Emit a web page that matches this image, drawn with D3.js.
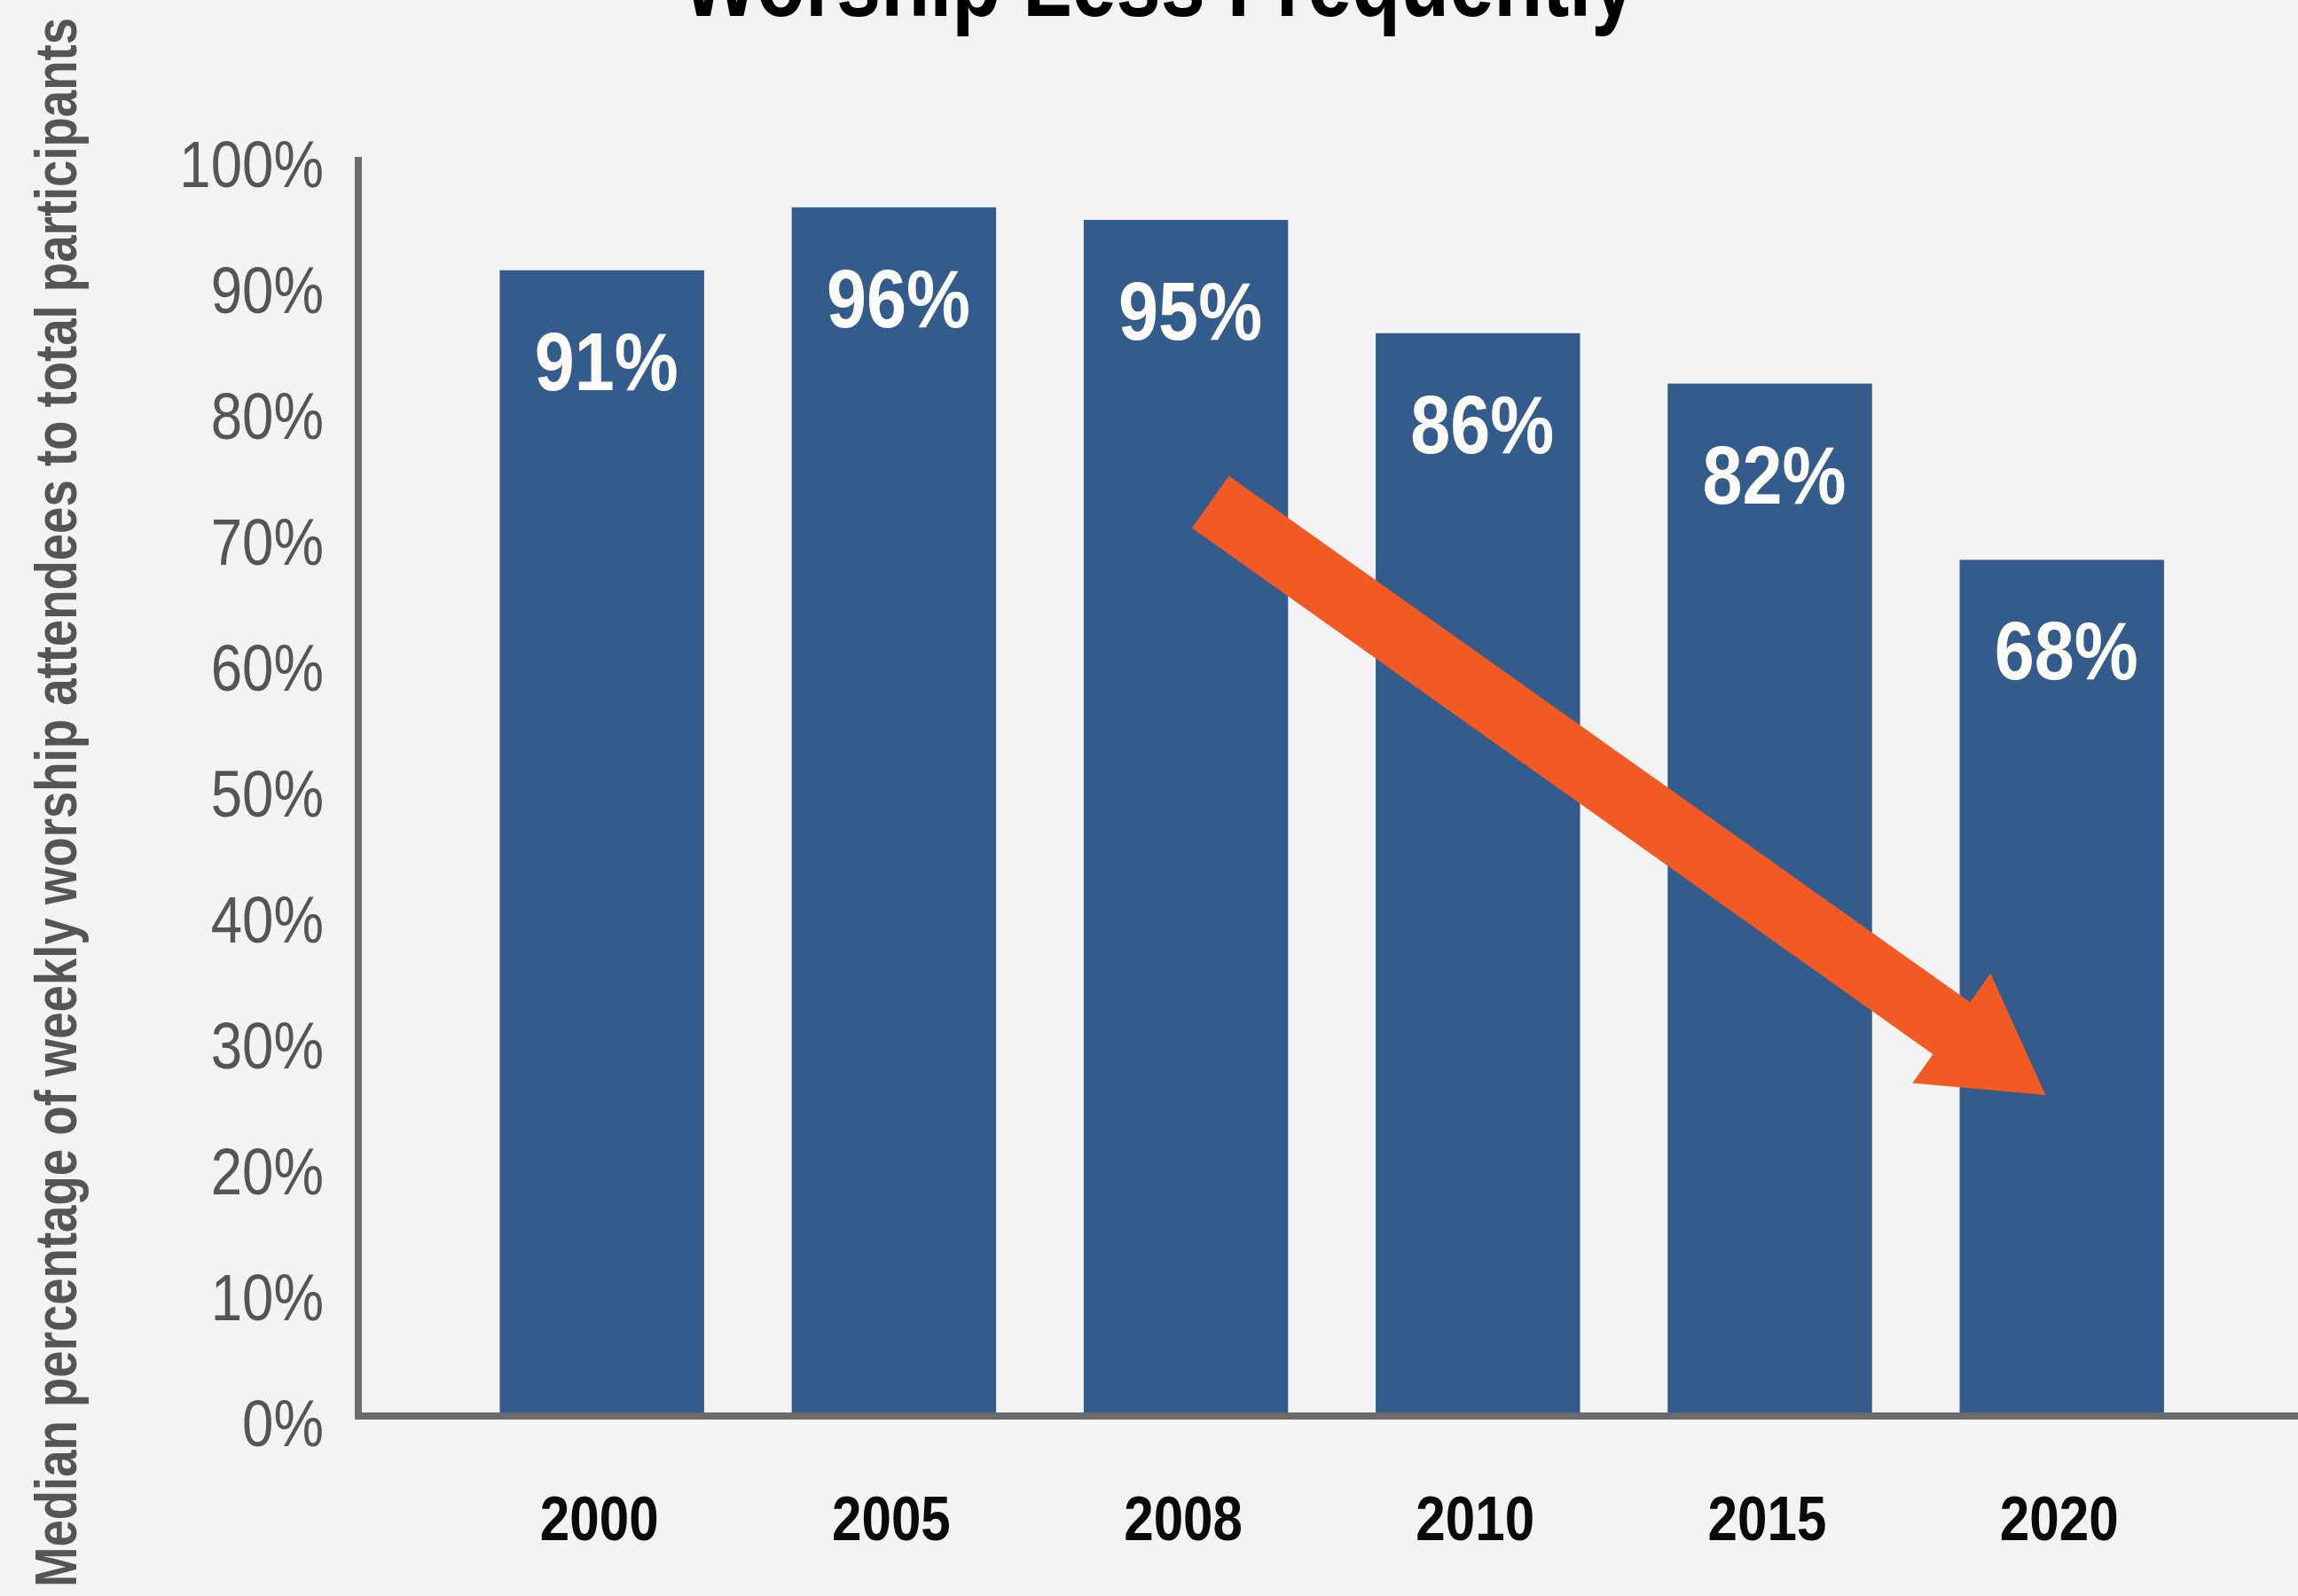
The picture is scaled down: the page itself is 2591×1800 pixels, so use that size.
<!DOCTYPE html>
<html>
<head>
<meta charset="utf-8">
<script src="https://cdn.jsdelivr.net/npm/d3@7"></script>
<style>
  html, body { margin: 0; padding: 0; background: #f3f3f3; }
  svg { display: block; }
  .narrow { font-family: "Liberation Sans Narrow", "Arial Narrow", "Liberation Sans", sans-serif; }
</style>
</head>
<body>
<svg id="chart" width="2591" height="1800"></svg>
<script>
// ---- data ----
const categories = ["2000", "2005", "2008", "2010", "2015", "2020"];
const values = [91, 96, 95, 86, 82, 68];
const yTicks = [0, 10, 20, 30, 40, 50, 60, 70, 80, 90, 100];
const titleText = "Worship Less Frequently";
const yAxisTitle = "Median percentage of weekly worship attendees to total participants";
// trend arrow annotation (category, position inside band, value)
const arrowFrom = ["2008", 0.62, 72.6];
const arrowTo = ["2020", 0.42, 25.5];

// ---- layout ----
const W = 2591, H = 1800;
const svg = d3.select("#chart");
svg.append("rect").attr("width", W).attr("height", H).attr("fill", "#f3f3f3");

const x = d3.scaleBand().domain(categories).range([464.7, 2538.7]).paddingInner(0.3).paddingOuter(0.3);
const y = d3.scaleLinear().domain([0, 100]).range([1597, 177]);

const barColor = "#335b8c";
const axisColor = "#6b6b6b";

// bars
svg.append("g").selectAll("rect").data(categories).join("rect")
  .attr("x", d => x(d))
  .attr("y", (d, i) => y(values[i]))
  .attr("width", x.bandwidth())
  .attr("height", (d, i) => y(0) - y(values[i]))
  .attr("fill", barColor);

// value labels
svg.append("g").selectAll("text").data(categories).join("text")
  .attr("class", "narrow")
  .attr("transform", (d, i) => `translate(${x(d) + x.bandwidth() / 2 + 5},${y(values[i]) + 135}) scale(0.88,1)`)
  .attr("text-anchor", "middle")
  .attr("font-weight", "bold")
  .attr("font-size", 92)
  .attr("fill", "#fdfbf7")
  .text((d, i) => values[i] + "%");

// y axis (tick labels only, line drawn separately)
const yAxis = d3.axisLeft(y).tickValues(yTicks).tickFormat(d => d + "%").tickSize(0).tickPadding(0);
const gy = svg.append("g").attr("transform", "translate(365,0)").call(yAxis);
gy.select(".domain").remove();
gy.selectAll("text")
  .attr("class", "narrow")
  .attr("font-size", 74)
  .attr("fill", "#555555")
  .attr("dy", "0.32em")
  .attr("transform", "translate(0,10) scale(0.86,1)");

// x axis labels
const xAxis = d3.axisBottom(x).tickSize(0).tickPadding(0);
const gx = svg.append("g").attr("transform", "translate(0,1597)").call(xAxis);
gx.select(".domain").remove();
gx.selectAll("text")
  .attr("class", "narrow")
  .attr("font-size", 70)
  .attr("font-weight", "bold")
  .attr("fill", "#0a0a0a")
  .attr("dy", null)
  .attr("y", 0)
  .attr("transform", "translate(-3,140) scale(0.86,1)");

// axis lines
svg.append("line").attr("x1", 404).attr("x2", 404).attr("y1", y(100)).attr("y2", y(0) + 4)
  .attr("stroke", axisColor).attr("stroke-width", 8);
svg.append("line").attr("x1", 400).attr("x2", W).attr("y1", y(0)).attr("y2", y(0))
  .attr("stroke", axisColor).attr("stroke-width", 8);

// trend arrow
(function () {
  const p0 = [x(arrowFrom[0]) + arrowFrom[1] * x.bandwidth(), y(arrowFrom[2])];
  const p1 = [x(arrowTo[0]) + arrowTo[1] * x.bandwidth(), y(arrowTo[2])];
  const dx = p1[0] - p0[0], dy = p1[1] - p0[1];
  const len = Math.hypot(dx, dy);
  const ux = dx / len, uy = dy / len;      // along
  const nx = -uy, ny = ux;                 // normal
  const sw = 36, hw = 76, hl = 130;
  const hb = [p1[0] - ux * hl, p1[1] - uy * hl];
  const pts = [
    [p0[0] + nx * sw, p0[1] + ny * sw],
    [hb[0] + nx * sw, hb[1] + ny * sw],
    [hb[0] + nx * hw, hb[1] + ny * hw],
    p1,
    [hb[0] - nx * hw, hb[1] - ny * hw],
    [hb[0] - nx * sw, hb[1] - ny * sw],
    [p0[0] - nx * sw, p0[1] - ny * sw]
  ];
  svg.append("path").attr("d", d3.line()(pts) + "Z").attr("fill", "#f15a22");
})();

// title (clipped at top, as in the reference)
svg.append("text")
  .attr("class", "narrow")
  .attr("x", 1307).attr("y", 18)
  .attr("text-anchor", "middle")
  .attr("font-weight", "bold")
  .attr("font-size", 112)
  .attr("fill", "#000")
  .attr("textLength", 1075)
  .attr("lengthAdjust", "spacingAndGlyphs")
  .text(titleText);

// y axis title
svg.append("text")
  .attr("class", "narrow")
  .attr("transform", "translate(86,905) rotate(-90)")
  .attr("text-anchor", "middle")
  .attr("font-weight", "bold")
  .attr("font-size", 66)
  .attr("fill", "#555555")
  .attr("textLength", 1770)
  .attr("lengthAdjust", "spacingAndGlyphs")
  .text(yAxisTitle);
</script>
</body>
</html>
